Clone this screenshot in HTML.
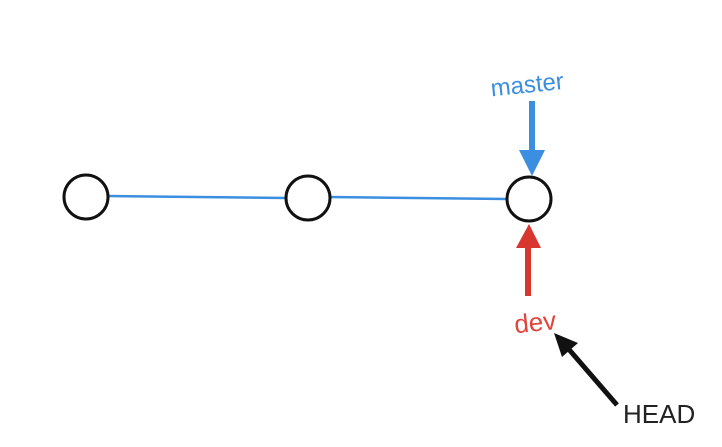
<!DOCTYPE html>
<html><head><style>body{margin:0;background:#fff;}</style></head><body>
<svg width="722" height="442" viewBox="0 0 722 442" xmlns="http://www.w3.org/2000/svg">
<line x1="108" y1="196" x2="286" y2="198" stroke="#3b8ee0" stroke-width="2.5"/>
<line x1="330" y1="197" x2="507" y2="199" stroke="#3b8ee0" stroke-width="2.5"/>
<circle cx="86" cy="197" r="22" fill="#fff" stroke="#111" stroke-width="3"/>
<circle cx="308" cy="198" r="22" fill="#fff" stroke="#111" stroke-width="3"/>
<circle cx="529" cy="199" r="22" fill="#fff" stroke="#111" stroke-width="3"/>
<text x="490" y="92" font-family="Liberation Sans, sans-serif" font-size="24" fill="#3b8ee0" transform="rotate(-6 533 80)">master</text>
<line x1="532" y1="101" x2="532" y2="160" stroke="#3b8ee0" stroke-width="6"/>
<polygon points="519,150 545,150 532,176" fill="#3b8ee0"/>
<line x1="528" y1="238" x2="528" y2="296" stroke="#d8362e" stroke-width="6"/>
<polygon points="516,248 541,248 529,224" fill="#d8362e"/>
<text x="514" y="331" font-family="Liberation Sans, sans-serif" font-size="26" fill="#e0443c" transform="rotate(-6 537 320)">dev</text>
<line x1="617" y1="405" x2="566" y2="346" stroke="#111" stroke-width="5"/>
<polygon points="554,333 578,343 562,357" fill="#111"/>
<text x="623" y="423" font-family="Liberation Sans, sans-serif" font-size="26" fill="#222">HEAD</text>
</svg>
</body></html>
